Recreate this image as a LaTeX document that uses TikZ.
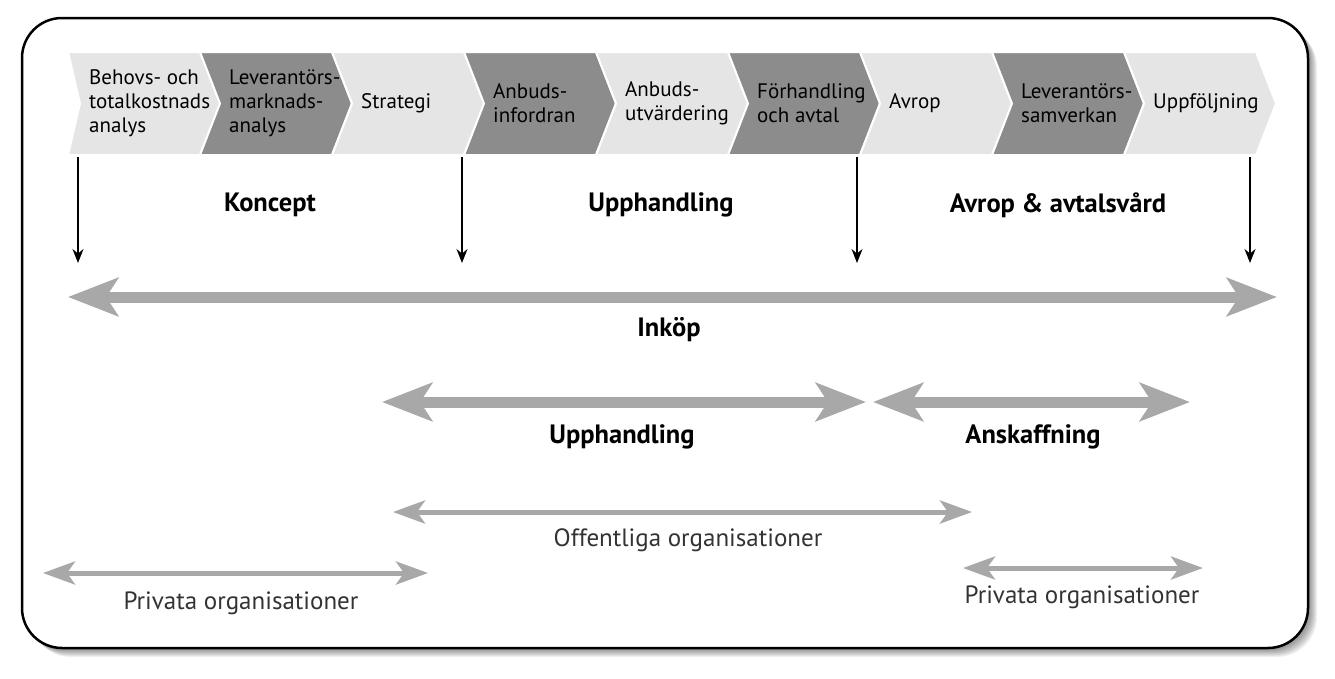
\documentclass[tikz,border=0pt]{standalone}
\usepackage{fontspec}
\setmainfont{PT Sans}
\usetikzlibrary{arrows.meta}
\definecolor{chevlight}{RGB}{229,229,229}
\definecolor{chevdark}{RGB}{140,140,140}
\definecolor{arrowgray}{RGB}{168,168,168}

\begin{document}
\begin{tikzpicture}[x=1pt,y=-1pt,
    chevtext/.style={anchor=west,align=left,inner sep=0pt,font=\fontsize{21}{24}\selectfont},
    phase/.style={font=\fontsize{26.5}{30}\selectfont\bfseries},
    org/.style={font=\fontsize{25}{28}\selectfont,text=black!80},
    cutarrow/.style={-{Stealth[length=14pt,width=11pt]},line width=1.3pt},
    bigarrow/.style={{Stealth[length=50pt,width=38pt,inset=12pt]}-{Stealth[length=50pt,width=38pt,inset=12pt]},line width=11pt,draw=arrowgray},
    smallarrow/.style={{Stealth[length=32pt,width=23pt,inset=8pt]}-{Stealth[length=32pt,width=23pt,inset=8pt]},line width=5pt,draw=arrowgray}]
            \useasboundingbox (0,0) rectangle (1335,678);
            % shadow and frame
            \foreach \k in {1,...,9}
                \fill[black,opacity=0.06,rounded corners=40pt] (22+\k,18+\k) rectangle (1308+\k,648+\k);
            \draw[fill=white,line width=2.5pt,rounded corners=40pt] (22,18) rectangle (1308,648);
            % process chevrons
            \foreach \i/\n/\col/\txt in {0/12/chevlight/{Behovs- och\\totalkostnads\\analys},
                    1/20/chevdark/{Leverantörs-\\marknads-\\analys},
                    2/20/chevlight/{Strategi},
                    3/20/chevdark/{Anbuds-\\infordran},
                    4/20/chevlight/{Anbuds-\\utvärdering},
                    5/20/chevdark/{Förhandling\\och avtal},
                    6/20/chevlight/{Avrop},
                    7/20/chevdark/{Leverantörs-\\samverkan},
                    8/20/chevlight/{Uppföljning}}{
                \pgfmathsetmacro\xa{68+132*\i}
                \filldraw[fill=\col,draw=white,line width=2pt] (\xa,52) -- ++(132,0) -- ++(20,51.5) -- ++(-20,51.5)
                    -- ++(-132,0) -- ++(\n,-51.5) -- cycle;
                \node[chevtext] (ch\i) at (\xa+\n+9,103.5) {\txt};
            }
            % cuts
            \foreach \x/\c in {78/a,462/b,857/c,1250/d}{
                \coordinate (cut\c top) at (\x,157);
                \coordinate (cut\c bot) at (\x,263);
                \draw[cutarrow] (cut\c top) -- (cut\c bot);
            }
            \node[phase] (koncept) at (270,205) {Koncept};
            \node[phase] (upphtop) at (661,205) {Upphandling};
            \node[phase] (avrop) at (1058,205) {Avrop \& avtalsvård};
            % spans
            \coordinate (inkopL) at (68,297);
            \coordinate (inkopR) at (1277,297);
            \draw[bigarrow] (inkopL) -- (inkopR);
            \node[phase] (inkop) at (669,330) {Inköp};
            \coordinate (upphL) at (382,402);
            \coordinate (upphR) at (866,402);
            \draw[bigarrow] (upphL) -- (upphR);
            \node[phase] (upph) at (622,437) {Upphandling};
            \coordinate (anskL) at (873,402);
            \coordinate (anskR) at (1190,402);
            \draw[bigarrow] (anskL) -- (anskR);
            \node[phase] (ansk) at (1033,437) {Anskaffning};
            \coordinate (offL) at (393,512);
            \coordinate (offR) at (972,512);
            \draw[smallarrow] (offL) -- (offR);
            \node[org] (off) at (688,540) {Offentliga organisationer};
            \coordinate (privaL) at (43,573);
            \coordinate (privaR) at (428,573);
            \draw[smallarrow] (privaL) -- (privaR);
            \node[org] (priva) at (241,603) {Privata organisationer};
            \coordinate (privbL) at (963,568);
            \coordinate (privbR) at (1203,568);
            \draw[smallarrow] (privbL) -- (privbR);
            \node[org] (privb) at (1082,597) {Privata organisationer};
\end{tikzpicture}
\end{document}
